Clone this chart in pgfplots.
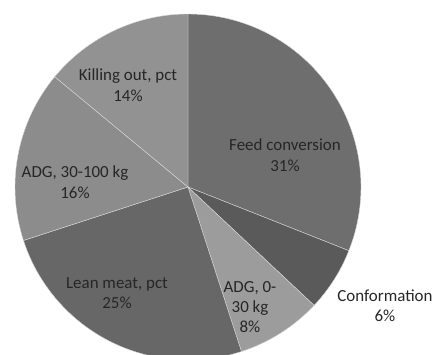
\documentclass[border=0pt]{standalone}
\usepackage{pgfplots}
\pgfplotsset{compat=1.18}
\usepackage{fontspec}
\setmainfont{Carlito}
\definecolor{feed}{RGB}{110,110,110}
\definecolor{conf}{RGB}{90,90,90}
\definecolor{adga}{RGB}{156,156,156}
\definecolor{lean}{RGB}{103,103,103}
\definecolor{adgb}{RGB}{140,140,140}
\definecolor{kill}{RGB}{146,146,146}
\begin{document}
\begin{tikzpicture}
\path[use as bounding box] (0,0) rectangle (433bp,355bp);
\begin{axis}[
  at={(0,0)}, anchor=south west,
  x=1bp, y=1bp, xmin=0, xmax=433, ymin=0, ymax=355,
  hide axis, clip=true,
]
\xdef\startangle{90}
\foreach \v/\c in {31/feed,6/conf,8/adga,25/lean,16/adgb,14/kill} {
  \pgfmathsetmacro{\endangle}{\startangle-3.6*\v}
  \edef\temp{\noexpand\fill[\c, draw=white!70!gray, line width=0.4pt]
    (axis cs:188,168) -- ++(\startangle:173bp)
    arc[start angle=\startangle, end angle=\endangle, radius=173bp] -- cycle;}
  \temp
  \xdef\startangle{\endangle}
}
\begin{scope}[every node/.style={align=center, text=black!85, font=\fontsize{17}{20.5}\selectfont}]
\node at (axis cs:285,200) {Feed conversion\\31\%};
\node at (axis cs:385,49) {Conformation\\6\%};
\node at (axis cs:250,48) {ADG, 0-\\30 kg\\8\%};
\node at (axis cs:117,62) {Lean meat, pct\\25\%};
\node at (axis cs:75,173) {ADG, 30-100 kg\\16\%};
\node at (axis cs:128,270) {Killing out, pct\\14\%};
\end{scope}
\end{axis}
\end{tikzpicture}
\end{document}
